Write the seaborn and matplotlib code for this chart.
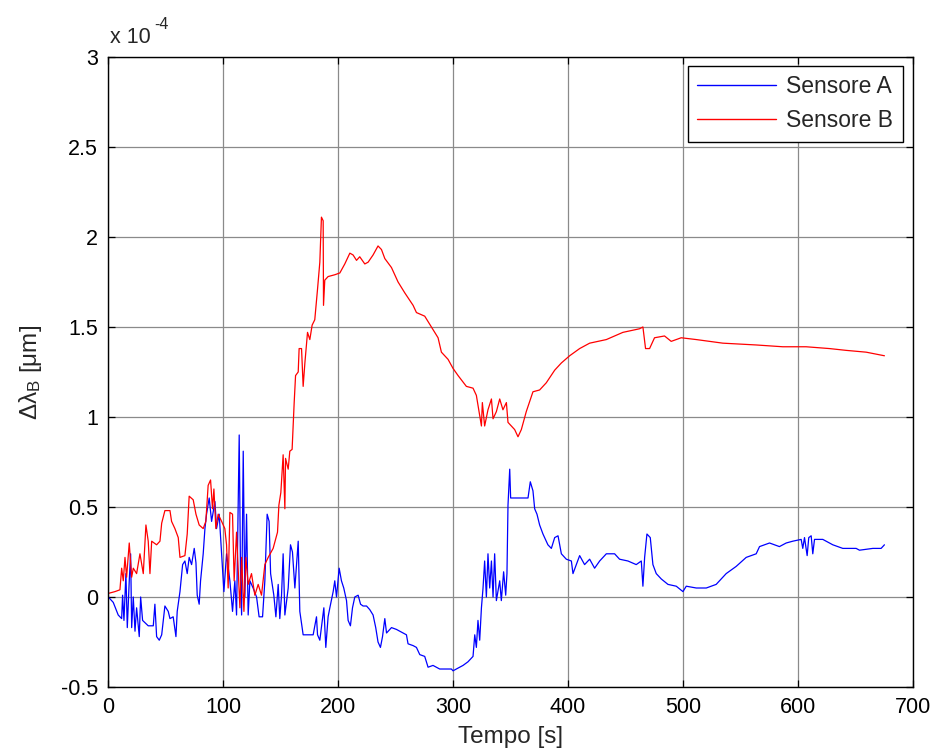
import matplotlib
matplotlib.use("Agg")
import matplotlib.pyplot as plt
import numpy as np
import pandas as pd
import seaborn as sns

# ---------------- data (values in units of 1e-4 um) ----------------
series_names = ["Sensore A", "Sensore B"]

t_a = [0, 0.3, 4.6, 8.9, 11.9, 12.7, 13.9, 15.6, 16.8, 18.5, 19.7, 20.6, 22.0, 23.5, 24.9,
       27.2, 28.4, 30.1, 35.0, 39.4, 40.8, 42.3, 44.6, 46.7, 49.5, 52.4, 53.9, 56.7, 59.1,
       60.2, 62.6, 64.9, 66.9, 68.9, 70.6, 72.7, 75.0, 76.5, 77.6, 79.3, 80.5, 82.8, 84.3,
       85.7, 88.0, 90.1, 93.0, 94.4, 96.7, 98.8, 100.8, 103.1, 106.0, 108.3, 110.3, 111.8,
       114.1, 115.3, 116.2, 117.6, 119.0, 120.5, 121.9, 123.4, 126.2, 129.2, 131.4, 134.4,
       136.4, 138.4, 140.1, 141.4, 144.2, 146.0, 148.0, 149.4, 150.9, 152.3, 153.8, 156.7,
       158.7, 160.4, 162.5, 165.4, 166.8, 169.7, 178.4, 181.3, 182.2, 184.2, 187.7, 189.4,
       191.4, 192.9, 195.8, 197.2, 198.7, 201.0, 203.0, 205.0, 207.4, 208.8, 210.8, 212.6,
       214.6, 217.5, 219.6, 221.8, 224.8, 227.6, 230.5, 232.8, 234.8, 236.9, 238.7, 240.7,
       242.2, 246.5, 250.8, 256.6, 259.5, 260.9, 265.3, 268.2, 271.1, 275.4, 278.3, 282.6,
       288.4, 294.3, 298.6, 300.0, 302.9, 308.7, 313.0, 317.4, 318.9, 320.3, 321.7, 323.2,
       324.7, 326.1, 327.5, 329.0, 330.4, 331.9, 333.4, 334.8, 336.2, 337.7, 340.6, 342.0,
       344.0, 345.8, 346.9, 347.8, 349.3, 350.1, 352.1, 365.2, 367.2, 369.5, 371.0, 373.0,
       375.3, 378.2, 382.5, 385.5, 388.4, 391.3, 394.2, 398.5, 402.9, 404.3, 407.2, 410.1,
       414.4, 418.8, 423.1, 427.5, 433.3, 440.5, 444.8, 452.1, 459.3, 463.7, 465.1, 466.6,
       468.6, 471.5, 473.8, 476.7, 481.1, 486.9, 494.1, 499.9, 502.8, 511.5, 520.2, 528.8,
       537.5, 546.2, 554.9, 563.6, 566.5, 575.2, 583.8, 589.7, 595.4, 602.7, 604.1, 605.6,
       607.9, 609.3, 611.4, 612.8, 614.3, 621.5, 630.2, 638.9, 650.5, 653.4, 665.0, 672.2,
       675.1]
v_a = [0.0, 0.0, -0.03, -0.10, -0.12, 0.01, -0.13, 0.13, -0.17, 0.09, 0.24, -0.17, 0.0, -0.19,
       -0.06, -0.22, 0.0, -0.13, -0.16, -0.16, -0.04, -0.22, -0.24, -0.21, -0.05, -0.08, -0.12,
       -0.11, -0.22, -0.08, 0.03, 0.18, 0.20, 0.13, 0.22, 0.18, 0.27, 0.19, 0.01, -0.04, 0.09,
       0.24, 0.38, 0.46, 0.55, 0.42, 0.53, 0.38, 0.46, 0.24, 0.03, 0.24, 0.09, -0.08, 0.09,
       -0.10, 0.90, 0.09, -0.10, 0.81, 0.0, 0.46, -0.10, 0.09, 0.05, 0.0, -0.11, -0.11, 0.09,
       0.46, 0.42, 0.13, 0.01, -0.11, 0.07, -0.12, 0.01, 0.24, -0.10, 0.05, 0.29, 0.25, 0.05,
       0.31, -0.08, -0.21, -0.21, -0.11, -0.21, -0.24, -0.06, -0.28, -0.11, -0.06, 0.03, 0.09,
       0.0, 0.16, 0.09, 0.05, -0.02, -0.13, -0.16, -0.06, 0.0, 0.01, -0.04, -0.05, -0.05,
       -0.07, -0.10, -0.17, -0.25, -0.28, -0.22, -0.12, -0.20, -0.17, -0.18, -0.20, -0.21,
       -0.26, -0.27, -0.28, -0.32, -0.33, -0.39, -0.38, -0.40, -0.40, -0.40, -0.41, -0.40,
       -0.38, -0.36, -0.33, -0.21, -0.28, -0.13, -0.24, -0.06, 0.05, 0.20, 0.0, 0.24, 0.05,
       0.20, 0.0, 0.24, -0.02, 0.09, -0.02, 0.14, 0.01, 0.13, 0.51, 0.71, 0.55, 0.55, 0.55,
       0.64, 0.59, 0.49, 0.46, 0.40, 0.35, 0.29, 0.27, 0.33, 0.34, 0.24, 0.21, 0.20, 0.13,
       0.18, 0.23, 0.18, 0.21, 0.16, 0.20, 0.24, 0.24, 0.21, 0.20, 0.18, 0.20, 0.06, 0.22,
       0.35, 0.33, 0.18, 0.13, 0.10, 0.07, 0.06, 0.03, 0.06, 0.05, 0.05, 0.07, 0.13, 0.17,
       0.22, 0.24, 0.28, 0.30, 0.28, 0.30, 0.31, 0.32, 0.27, 0.33, 0.23, 0.33, 0.34, 0.24,
       0.32, 0.32, 0.29, 0.27, 0.27, 0.26, 0.27, 0.27, 0.29]

t_b = [0, 0.3, 6.1, 10.4, 11.9, 13.3, 14.8, 16.2, 18.5, 20.6, 22.0, 24.9, 27.8, 30.7, 33.0,
       35.0, 36.5, 38.0, 42.3, 45.2, 46.7, 49.5, 53.9, 55.3, 58.2, 61.1, 62.6, 66.9, 68.9,
       70.6, 74.1, 76.5, 79.3, 82.8, 85.1, 87.1, 89.2, 90.9, 92.1, 93.8, 95.8, 98.8, 101.6,
       103.1, 104.5, 106.0, 108.3, 109.7, 111.8, 114.7, 116.2, 118.2, 119.9, 121.9, 124.8,
       127.7, 130.6, 133.5, 136.4, 139.3, 143.6, 147.4, 148.6, 150.3, 152.3, 153.8, 154.4,
       156.7, 158.1, 160.1, 161.9, 163.1, 165.4, 166.2, 168.3, 169.7, 171.2, 173.5, 175.5,
       177.5, 179.8, 182.2, 184.2, 185.6, 187.1, 187.4, 188.5, 191.4, 197.2, 201.6, 205.9,
       210.3, 213.1, 216.1, 218.9, 223.3, 226.2, 230.5, 234.8, 237.8, 240.7, 246.5, 252.2,
       258.0, 265.3, 268.2, 275.4, 281.2, 287.0, 289.9, 295.7, 300.0, 304.4, 311.6, 317.4,
       320.3, 324.7, 325.5, 327.5, 330.4, 333.4, 334.8, 337.7, 340.6, 343.4, 346.4, 347.8,
       350.7, 353.6, 356.5, 359.4, 363.7, 369.5, 375.3, 381.1, 388.4, 394.2, 401.4, 410.1,
       418.8, 433.3, 447.7, 462.2, 465.1, 467.4, 470.9, 475.2, 483.9, 489.7, 498.4, 511.5,
       534.6, 563.6, 586.7, 607.0, 627.3, 641.8, 659.2, 675.1]
v_b = [0.0, 0.02, 0.03, 0.04, 0.16, 0.09, 0.22, 0.11, 0.30, 0.11, 0.16, 0.13, 0.24, 0.13, 0.40,
       0.31, 0.13, 0.31, 0.29, 0.31, 0.41, 0.48, 0.48, 0.42, 0.38, 0.33, 0.22, 0.23, 0.35,
       0.56, 0.54, 0.46, 0.40, 0.38, 0.42, 0.62, 0.65, 0.49, 0.60, 0.38, 0.46, 0.42, 0.38,
       0.29, 0.05, 0.47, 0.46, 0.09, 0.36, -0.06, 0.22, -0.08, 0.22, 0.07, 0.13, 0.01, 0.07,
       0.01, 0.18, 0.22, 0.27, 0.36, 0.51, 0.58, 0.79, 0.49, 0.77, 0.71, 0.81, 0.82, 1.08,
       1.23, 1.25, 1.38, 1.38, 1.17, 1.30, 1.47, 1.43, 1.51, 1.54, 1.71, 1.86, 2.11, 2.09,
       1.62, 1.76, 1.78, 1.79, 1.80, 1.85, 1.91, 1.90, 1.87, 1.89, 1.85, 1.86, 1.90, 1.95,
       1.93, 1.88, 1.83, 1.75, 1.69, 1.62, 1.58, 1.56, 1.50, 1.44, 1.36, 1.32, 1.27, 1.23,
       1.17, 1.16, 1.12, 0.95, 1.08, 0.95, 1.04, 1.10, 0.99, 1.03, 1.10, 1.04, 1.08, 0.97,
       0.95, 0.93, 0.89, 0.93, 1.03, 1.14, 1.15, 1.19, 1.26, 1.30, 1.34, 1.38, 1.41, 1.43,
       1.47, 1.49, 1.50, 1.38, 1.38, 1.44, 1.45, 1.42, 1.44, 1.43, 1.41, 1.40, 1.39, 1.39,
       1.38, 1.37, 1.36, 1.34]

x_ticks = [0, 100, 200, 300, 400, 500, 600, 700]
y_ticks = [-0.5, 0, 0.5, 1, 1.5, 2, 2.5, 3]
y_tick_labels = ["-0.5", "0", "0.5", "1", "1.5", "2", "2.5", "3"]
scale = 1e-4

# ---------------- style ----------------
sns.set_theme(style="white")
plt.rcParams["font.family"] = ["Liberation Sans", "DejaVu Sans"]
plt.rcParams["mathtext.fontset"] = "custom"
plt.rcParams["mathtext.rm"] = "Liberation Sans"
plt.rcParams["mathtext.it"] = "Liberation Sans:italic"
plt.rcParams["mathtext.default"] = "regular"

df = pd.concat([
    pd.DataFrame({"t": t_a, "v": np.array(v_a) * scale, "sensor": series_names[0]}),
    pd.DataFrame({"t": t_b, "v": np.array(v_b) * scale, "sensor": series_names[1]}),
], ignore_index=True)

fig = plt.figure(figsize=(9.34, 7.51), dpi=100)
ax = fig.add_axes([0.1156, 0.0852, 0.862, 0.839])

sns.lineplot(data=df, x="t", y="v", hue="sensor",
             palette={series_names[0]: "#0000ff", series_names[1]: "#ff0000"},
             estimator=None, sort=False, linewidth=0.9, ax=ax)

ax.set_xlim(0, 700)
ax.set_ylim(-0.5 * scale, 3 * scale)
ax.set_xticks(x_ticks)
ax.set_xticklabels([str(x) for x in x_ticks])
ax.set_yticks([y * scale for y in y_ticks])
ax.set_yticklabels(y_tick_labels)

ax.grid(True, color="#8a8a8a", linewidth=0.9, linestyle="-")
ax.set_axisbelow(True)
for sp in ax.spines.values():
    sp.set_color("black")
    sp.set_linewidth(1.0)
    sp.set_visible(True)

ax.tick_params(axis="both", which="major", direction="in", length=5, width=0.9,
               colors="black", labelsize=15.5, top=True, right=True,
               bottom=True, left=True, pad=7)

ax.set_xlabel("Tempo [s]", fontsize=17.5, labelpad=6)
ax.set_ylabel(r"Δλ$_\mathrm{B}$ [μm]", fontsize=17.5, labelpad=12)

ax.text(0.002, 1.022, "x 10", transform=ax.transAxes, fontsize=15.5,
        ha="left", va="baseline")
ax.text(0.058, 1.045, "-4", transform=ax.transAxes, fontsize=11.5,
        ha="left", va="baseline")

handles, labels = ax.get_legend_handles_labels()
leg = ax.legend(handles=handles, labels=labels, loc="upper right",
                bbox_to_anchor=(0.987, 0.986), frameon=True, fancybox=False,
                framealpha=1, edgecolor="black", fontsize=16.5, handlelength=3.45,
                handletextpad=0.45, labelspacing=0.5, borderpad=0.4, borderaxespad=0)
leg.get_frame().set_linewidth(1.0)
for ln in leg.get_lines():
    ln.set_linewidth(1.0)

fig.savefig("out.png", dpi=100)
